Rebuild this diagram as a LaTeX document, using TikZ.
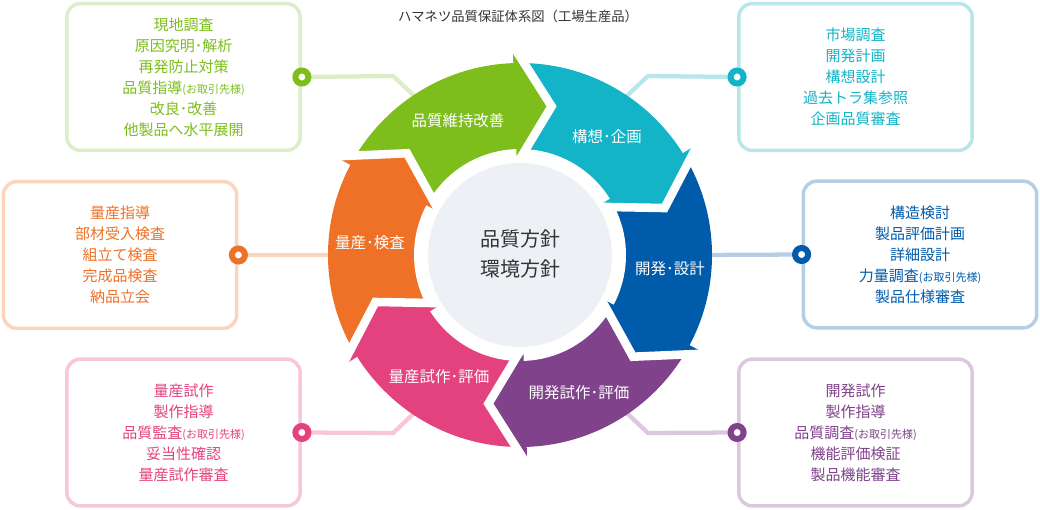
\documentclass[tikz,border=0pt]{standalone}
\usepackage{fontspec}
\setmainfont{Noto Sans CJK JP}
\definecolor{cgreen}{HTML}{7DBE1D}
\definecolor{ccyan}{HTML}{13B4C8}
\definecolor{cblue}{HTML}{005BAA}
\definecolor{cpurple}{HTML}{7F428B}
\definecolor{cpink}{HTML}{E4427E}
\definecolor{corange}{HTML}{EE7127}
\definecolor{lgreen}{HTML}{DDEDC8}
\definecolor{lcyan}{HTML}{B9E6EC}
\definecolor{lblue}{HTML}{B5CEE7}
\definecolor{lpurple}{HTML}{DBC8DF}
\definecolor{lpink}{HTML}{F7C6D8}
\definecolor{lorange}{HTML}{FBD4BD}
\definecolor{cgray}{HTML}{EDF0F5}
\definecolor{ctext}{HTML}{333333}
\newcommand\smalltxt[1]{{\fontsize{8.25pt}{8.25pt}\selectfont #1}}
\begin{document}
\begin{tikzpicture}[x=0.75pt,y=-0.75pt,
  box/.style={draw, rounded corners=10pt, line width=2.6pt, fill=white,
    minimum width=175pt, minimum height=110pt, align=center, inner sep=0pt,
    font=\fontsize{11.25pt}{15.75pt}\selectfont},
  dotn/.style={circle, fill=white, line width=4.5pt, minimum size=9.75pt, inner sep=0pt},
  conn/.style={line width=3.2pt},
  seglabel/.style={text=white, font=\fontsize{11.6pt}{14pt}\selectfont, inner sep=0pt},
]
\useasboundingbox (0,0) rectangle (1040,510);

% boxes
\node[box, draw=lgreen, text=cgreen] (bg) at (183.5,77)
  {現地調査\\原因究明･解析\\再発防止対策\\品質指導\smalltxt{(お取引先様)}\\改良･改善\\他製品へ水平展開};
\node[box, draw=lcyan, text=ccyan] (bc) at (855.5,77)
  {市場調査\\開発計画\\構想設計\\過去トラ集参照\\企画品質審査};
\node[box, draw=lblue, text=cblue] (bb) at (920,254.5)
  {構造検討\\製品評価計画\\詳細設計\\力量調査\smalltxt{(お取引先様)}\\製品仕様審査};
\node[box, draw=lorange, text=corange] (bo) at (120,255)
  {量産指導\\部材受入検査\\組立て検査\\完成品検査\\納品立会};
\node[box, draw=lpink, text=cpink] (bn) at (183.5,432.5)
  {量産試作\\製作指導\\品質監査\smalltxt{(お取引先様)}\\妥当性確認\\量産試作審査};
\node[box, draw=lpurple, text=cpurple] (bp) at (855.5,432.5)
  {開発試作\\製作指導\\品質調査\smalltxt{(お取引先様)}\\機能評価検証\\製品機能審査};

% connector bends and ends
\coordinate (gk) at (393,76);  \coordinate (ge) at (425,106);
\coordinate (ck) at (648,76);  \coordinate (ce) at (616,106);
\coordinate (pk) at (648,433); \coordinate (pe) at (616,403);
\coordinate (nk) at (393,433); \coordinate (ne) at (425,403);
\coordinate (be) at (700,255); \coordinate (oe) at (340,255);

\draw[conn, lgreen] (bg.east) -- (gk) -- (ge);
\draw[conn, lcyan] (bc.west) -- (ck) -- (ce);
\draw[conn, lpurple] (bp.west) -- (pk) -- (pe);
\draw[conn, lpink] (bn.east) -- (nk) -- (ne);
\draw[conn, lblue] (bb.west) -- (be);
\draw[conn, lorange] (bo.east) -- (oe);

\node[dotn, draw=cgreen] (dg) at (bg.east) {};
\node[dotn, draw=ccyan] (dc) at (bc.west) {};
\node[dotn, draw=cblue] (db) at (bb.west) {};
\node[dotn, draw=corange] (do) at (bo.east) {};
\node[dotn, draw=cpink] (dn) at (bn.east) {};
\node[dotn, draw=cpurple] (dp) at (bp.west) {};

% ring
\begin{scope}[shift={(520,255)}, yscale=-1]
  \foreach \h/\c in {92/cgreen, 32/ccyan, -28/cblue, -88/cpurple, -148/cpink, 152/corange} {
    \pgfmathsetmacro\t{\h+60}
    \pgfmathsetmacro\tt{\t-14}
    \pgfmathsetmacro\m{\h+30}
    \pgfmathsetmacro\hh{\h-0.6}
    \begin{scope}
      \clip (0,0) circle (192);
      \fill[\c] (\t:210) -- (\tt:152) -- (\t:91) -- (\t:40) -- (\hh:40) -- (\hh:240) -- (\m:240) -- (\t:240) -- cycle;
    \end{scope}
  }
  \fill[white] (0,0) circle (106);
  \foreach \h/\c in {92/cgreen, 32/ccyan, -28/cblue, -88/cpurple, -148/cpink, 152/corange} {
    \pgfmathsetmacro\ht{\h-14}
    \fill[\c] (\h:210) -- (\ht:152) -- (\h:91) -- cycle;
  }
  \foreach \h in {92, 32, -28, -88, -148, 152} {
    \pgfmathsetmacro\ht{\h-14}
    \draw[white, line width=6.4pt] (\h:210) -- (\ht:152) -- (\h:91);
  }
  \fill[cgray] (0,0) circle (92);
\end{scope}

% labels
\node[seglabel] (lg) at (458,121) {品質維持改善};
\node[seglabel] (lc) at (607,137) {構想･企画};
\node[seglabel] (lb) at (670,269) {開発･設計};
\node[seglabel] (lp) at (579,393) {開発試作･評価};
\node[seglabel] (ln) at (439,377) {量産試作･評価};
\node[seglabel] (lo) at (370,243) {量産･検査};

\node[text=ctext, align=center, font=\fontsize{15pt}{22.5pt}\selectfont] (core) at (520,254) {品質方針\\環境方針};
\node[text=ctext, font=\fontsize{10pt}{12pt}\selectfont] (title) at (518,16) {ハマネツ品質保証体系図（工場生産品）};
\end{tikzpicture}
\end{document}
